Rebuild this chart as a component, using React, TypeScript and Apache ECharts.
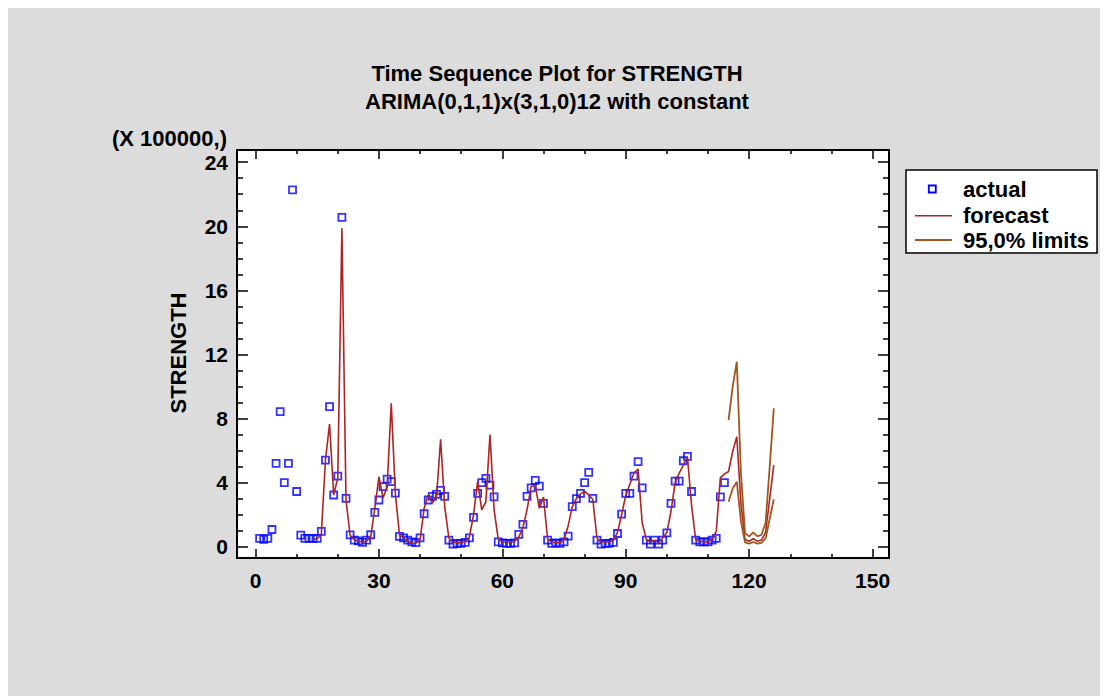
import React, { useEffect, useRef } from "react";
import * as echarts from "echarts";

// ---- data ----
const actualStart = 1;
const actual = [
  0.52, 0.46, 0.52, 1.08, 5.2, 8.43, 4.0, 5.2, 22.27, 3.45, 0.73, 0.52,
  0.52, 0.52, 0.52, 0.96, 5.41, 8.75, 3.23, 4.41, 20.56, 3.02, 0.74, 0.42,
  0.37, 0.27, 0.42, 0.75, 2.15, 2.92, 3.75, 4.22, 4.06, 3.35, 0.65, 0.56,
  0.42, 0.31, 0.26, 0.55, 2.06, 2.92, 3.14, 3.27, 3.52, 3.15, 0.42, 0.17,
  0.21, 0.21, 0.27, 0.56, 1.83, 3.33, 4.0, 4.27, 3.85, 3.12, 0.31, 0.25,
  0.21, 0.21, 0.25, 0.77, 1.4, 3.14, 3.68, 4.14, 3.78, 2.71, 0.42, 0.21,
  0.25, 0.21, 0.31, 0.67, 2.5, 3.0, 3.33, 4.0, 4.64, 3.02, 0.42, 0.17,
  0.21, 0.21, 0.27, 0.83, 2.04, 3.33, 3.33, 4.41, 5.31, 3.68, 0.42, 0.17,
  0.42, 0.17, 0.42, 0.87, 2.71, 4.1, 4.1, 5.37, 5.64, 3.45, 0.42, 0.31,
  0.31, 0.31, 0.42, 0.52, 3.12, 4.0,
];

const forecastStart = 14;
const forecast = [
  0.45, 0.5, 0.8, 5.4, 7.66, 3.23, 4.3, 19.87, 2.9, 0.72, 0.45,
  0.35, 0.3, 0.35, 0.6, 2.4, 4.37, 3.05, 3.75, 8.95, 3.3, 0.75, 0.55,
  0.35, 0.22, 0.22, 0.45, 2.4, 3.25, 2.75, 3.1, 6.7, 2.5, 0.55, 0.3,
  0.25, 0.25, 0.35, 0.6, 2.0, 4.06, 2.3, 2.8, 7.0, 2.3, 0.5, 0.3,
  0.3, 0.3, 0.35, 0.6, 1.2, 2.3, 3.75, 3.85, 2.4, 3.1, 0.5, 0.3,
  0.25, 0.25, 0.45, 1.3, 2.5, 3.0, 3.3, 3.45, 3.25, 2.95, 0.55, 0.3,
  0.3, 0.3, 0.4, 0.9, 2.0, 3.2, 3.9, 4.6, 4.85, 1.5, 0.45, 0.35,
  0.35, 0.3, 0.55, 0.9, 2.2, 4.0, 4.6, 5.1, 5.62, 2.6, 0.45, 0.35,
  0.3, 0.3, 0.5, 0.94, 4.3, 4.55, 4.7, 5.95, 6.87, 2.7, 0.45, 0.35,
  0.5, 0.35, 0.42, 0.9, 3.0, 5.1,
];

const limitStart = 115;
const upperLimit = [7.91, 9.99, 11.55, 4.6, 0.85, 0.65, 0.9, 0.65, 0.75, 1.5, 5.0, 8.64];
const lowerLimit = [2.81, 3.64, 4.06, 1.6, 0.28, 0.2, 0.3, 0.2, 0.24, 0.52, 1.75, 2.96];

const xMajor = [0, 30, 60, 90, 120, 150];
const xMinor = [10, 20, 40, 50, 70, 80, 100, 110, 130, 140];
const yMajor = [0, 4, 8, 12, 16, 20, 24];
const yMinor = [1, 2, 3, 5, 6, 7, 9, 10, 11, 13, 14, 15, 17, 18, 19, 21, 22, 23];

const X_MIN = -4.5;
const X_MAX = 154;
const Y_MIN = -0.7;
const Y_MAX = 24.76;

const FONT = "'Liberation Sans', Arial, Helvetica, sans-serif";
const BLUE = "#0000FF";
const RED = "#AE2424";
const BROWN = "#A0561E";

function xAx(position: string, ticks: number[], len: number, labels: boolean, line: boolean) {
  return {
    type: "value",
    position,
    min: X_MIN,
    max: X_MAX,
    axisLine: { show: line, onZero: false, lineStyle: { color: "#000", width: 2 } },
    axisTick: {
      show: true,
      inside: true,
      length: len,
      customValues: ticks,
      lineStyle: { color: "#000", width: 1.5 },
    },
    axisLabel: labels
      ? {
          show: true,
          customValues: ticks,
          color: "#000",
          fontFamily: FONT,
          fontWeight: "bold",
          fontSize: 21,
          margin: 12,
        }
      : { show: false },
    splitLine: { show: false },
  };
}

function yAx(position: string, ticks: number[], len: number, labels: boolean, line: boolean) {
  return {
    type: "value",
    position,
    min: Y_MIN,
    max: Y_MAX,
    axisLine: { show: line, onZero: false, lineStyle: { color: "#000", width: 2 } },
    axisTick: {
      show: true,
      inside: true,
      length: len,
      customValues: ticks,
      lineStyle: { color: "#000", width: 1.5 },
    },
    axisLabel: labels
      ? {
          show: true,
          customValues: ticks,
          color: "#000",
          fontFamily: FONT,
          fontWeight: "bold",
          fontSize: 21,
          lineHeight: 18,
          margin: 9,
        }
      : { show: false },
    splitLine: { show: false },
  };
}

export default function App() {
  const ref = useRef<HTMLDivElement>(null);

  useEffect(() => {
    document.documentElement.style.overflow = "hidden";
    document.body.style.overflow = "hidden";
    if (!ref.current) return;
    const chart = echarts.init(ref.current, undefined, { renderer: "svg" });

    const actualData = actual.map((v, i) => [actualStart + i, v]);
    const forecastData = forecast.map((v, i) => [forecastStart + i, v]);
    const upperData = upperLimit.map((v, i) => [limitStart + i, v]);
    const lowerData = lowerLimit.map((v, i) => [limitStart + i, v]);

    const textStyle = (extra: any) => ({
      fill: "#000",
      fontFamily: FONT,
      fontWeight: "bold",
      fontSize: 22,
      ...extra,
    });

    chart.setOption({
      animation: false,
      backgroundColor: "#DCDCDC",
      grid: { left: 229, top: 142, width: 652, height: 408, containLabel: false, show: true, backgroundColor: "#fff", borderWidth: 0 },
      xAxis: [
        xAx("bottom", xMajor, 9, true, true),
        xAx("bottom", xMinor, 4, false, false),
        xAx("top", xMajor, 9, false, true),
        xAx("top", xMinor, 4, false, false),
      ],
      yAxis: [
        yAx("left", yMajor, 11, true, true),
        yAx("left", yMinor, 6, false, false),
        yAx("right", yMajor, 11, false, true),
        yAx("right", yMinor, 6, false, false),
      ],
      series: [
        {
          name: "actual",
          type: "scatter",
          xAxisIndex: 0,
          yAxisIndex: 0,
          data: actualData,
          symbol: "rect",
          symbolSize: 7,
          itemStyle: { color: "rgba(255,255,255,0)", borderColor: BLUE, borderWidth: 1.8 },
          z: 2,
        },
        {
          name: "forecast",
          type: "line",
          xAxisIndex: 0,
          yAxisIndex: 0,
          data: forecastData,
          showSymbol: false,
          symbol: "none",
          lineStyle: { color: RED, width: 1.6 },
          z: 3,
        },
        {
          name: "upper",
          type: "line",
          xAxisIndex: 0,
          yAxisIndex: 0,
          data: upperData,
          symbol: "none",
          lineStyle: { color: BROWN, width: 1.8 },
          z: 3,
        },
        {
          name: "lower",
          type: "line",
          xAxisIndex: 0,
          yAxisIndex: 0,
          data: lowerData,
          symbol: "none",
          lineStyle: { color: BROWN, width: 1.8 },
          z: 3,
        },
      ],
      graphic: [
        {
          type: "text",
          x: 549,
          y: 65,
          style: textStyle({ text: "Time Sequence Plot for STRENGTH", textAlign: "center", textVerticalAlign: "middle" }),
        },
        {
          type: "text",
          x: 549,
          y: 93,
          style: textStyle({ text: "ARIMA(0,1,1)x(3,1,0)12 with constant", textAlign: "center", textVerticalAlign: "middle" }),
        },
        {
          type: "text",
          x: 104,
          y: 130,
          style: textStyle({ text: "(X 100000,)", textAlign: "left", textVerticalAlign: "middle", lineHeight: 18 }),
        },
        {
          type: "text",
          x: 170,
          y: 345,
          rotation: Math.PI / 2,
          style: textStyle({ text: "STRENGTH", textAlign: "center", textVerticalAlign: "middle" }),
        },
        {
          type: "rect",
          shape: { x: 898, y: 162, width: 191, height: 83 },
          style: { fill: "#fff", stroke: "#000", lineWidth: 1.5 },
        },
        {
          type: "rect",
          shape: { x: 920.8, y: 177.5, width: 7, height: 7 },
          style: { fill: "none", stroke: BLUE, lineWidth: 1.8 },
        },
        {
          type: "line",
          shape: { x1: 907, y1: 207.7, x2: 944, y2: 207.7 },
          style: { stroke: RED, lineWidth: 1.6 },
        },
        {
          type: "line",
          shape: { x1: 907, y1: 232, x2: 944, y2: 232 },
          style: { stroke: BROWN, lineWidth: 1.8 },
        },
        {
          type: "text",
          x: 955,
          y: 181,
          style: textStyle({ text: "actual", textAlign: "left", textVerticalAlign: "middle" }),
        },
        {
          type: "text",
          x: 955,
          y: 207.7,
          style: textStyle({ text: "forecast", textAlign: "left", textVerticalAlign: "middle" }),
        },
        {
          type: "text",
          x: 955,
          y: 232,
          style: textStyle({ text: "95,0% limits", textAlign: "left", textVerticalAlign: "middle" }),
        },
      ],
    });

    return () => {
      chart.dispose();
    };
  }, []);

  return <div ref={ref} style={{ width: 1100, height: 688 }} />;
}
